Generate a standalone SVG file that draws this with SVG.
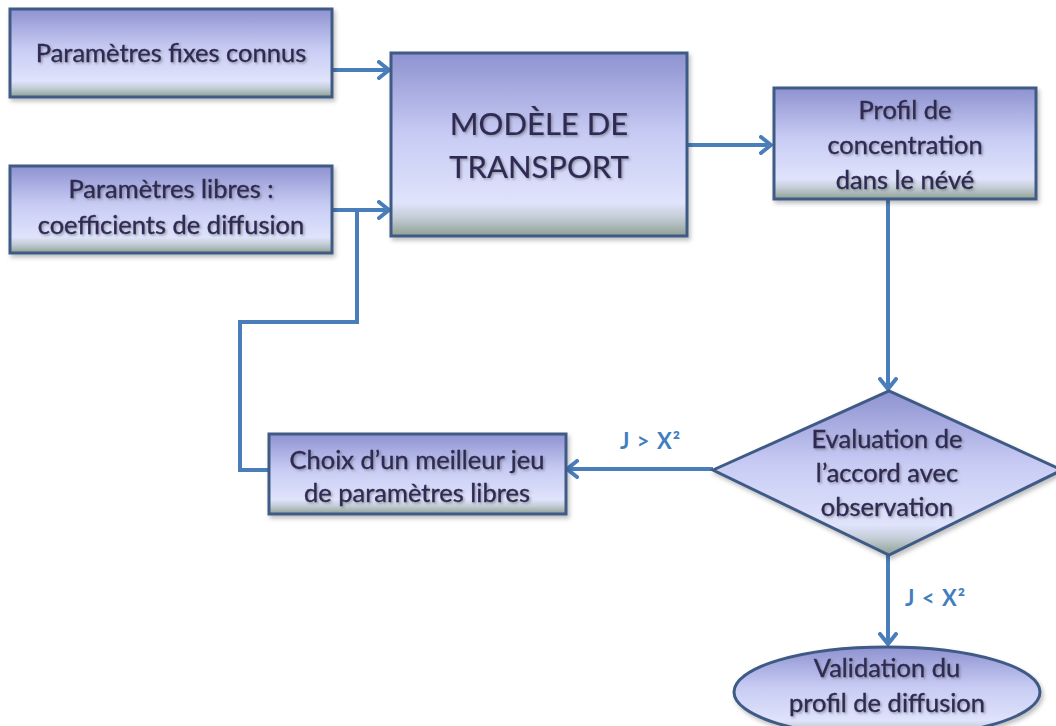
<svg xmlns="http://www.w3.org/2000/svg" width="1056" height="726" viewBox="0 0 1056 726">
<defs>
<linearGradient id="g" x1="0" y1="0" x2="0" y2="1">
<stop offset="0" stop-color="#8e92d0"/>
<stop offset="0.45" stop-color="#c8ccf4"/>
<stop offset="0.82" stop-color="#dfe3fb"/>
<stop offset="0.9" stop-color="#c3ccd6"/>
<stop offset="1" stop-color="#8ea192"/>
</linearGradient>
<filter id="sh" x="-10%" y="-20%" width="120%" height="140%">
<feDropShadow dx="1.5" dy="1.5" stdDeviation="1" flood-color="#555" flood-opacity="0.5"/>
</filter>
<filter id="bs" x="-10%" y="-10%" width="120%" height="130%">
<feDropShadow dx="2" dy="3" stdDeviation="2" flood-color="#000" flood-opacity="0.25"/>
</filter>
<marker id="ar" viewBox="0 0 14 20" refX="12" refY="10" markerWidth="14" markerHeight="20" markerUnits="userSpaceOnUse" orient="auto">
<path d="M2,2 L12,10 L2,18" fill="none" stroke="#4a7ebb" stroke-width="4" stroke-linecap="round" stroke-linejoin="round"/>
</marker>
</defs>
<style>
.n{fill:url(#g);stroke:#3f5a86;stroke-width:3;filter:url(#bs)}
.t{font-family:Lato,"Open Sans",sans-serif;font-size:25.5px;fill:#2e2a55;stroke:#2e2a55;stroke-width:0.35;text-anchor:middle;filter:url(#sh)}
.big{font-size:31px;stroke-width:0.2}
.c{fill:none;stroke:#4a7ebb;stroke-width:4}
.l{font-family:Lato,"Open Sans",sans-serif;font-size:22px;font-weight:bold;fill:#3f7fc0;letter-spacing:1px}
</style>
<rect width="1056" height="726" fill="#ffffff"/>
<g id="connectors">
<path class="c" d="M332,70 H389" marker-end="url(#ar)"/>
<path class="c" d="M332,210 H389" marker-end="url(#ar)"/>
<path class="c" d="M270,470 H240 V322 H357 V210"/>
<path class="c" d="M687,145 H771" marker-end="url(#ar)"/>
<path class="c" d="M888,199 V389" marker-end="url(#ar)"/>
<path class="c" d="M713,469 H567" marker-end="url(#ar)"/>
<path class="c" d="M888,555 V644" marker-end="url(#ar)"/>
<text class="l" x="620" y="449">J &gt; X²</text>
<text class="l" x="905" y="606">J &lt; X²</text>
</g>
<g id="fixes">
<rect class="n" x="10" y="9" width="322" height="88"/>
<text class="t" x="171" y="62">Paramètres fixes connus</text>
</g>
<g id="libres">
<rect class="n" x="10" y="166" width="322" height="87"/>
<text class="t" x="171" y="198">Paramètres libres :</text>
<text class="t" x="171" y="234">coefficients de diffusion</text>
</g>
<g id="modele">
<rect class="n" x="391" y="53" width="296" height="183"/>
<text class="t big" x="539" y="135">MODÈLE DE</text>
<text class="t big" x="539" y="178">TRANSPORT</text>
</g>
<g id="profil">
<rect class="n" x="774" y="88" width="262" height="111"/>
<text class="t" x="905" y="119">Profil de</text>
<text class="t" x="905" y="154">concentration</text>
<text class="t" x="905" y="189">dans le névé</text>
</g>
<g id="choix">
<rect class="n" x="269" y="434" width="297" height="80"/>
<text class="t" x="417" y="469">Choix d’un meilleur jeu</text>
<text class="t" x="417" y="502">de paramètres libres</text>
</g>
<g id="evaluation">
<polygon class="n" points="713,470 889,391 1062,470 889,555"/>
<text class="t" x="887" y="448">Evaluation de</text>
<text class="t" x="887" y="482">l’accord avec</text>
<text class="t" x="887" y="516">observation</text>
</g>
<g id="validation">
<ellipse class="n" cx="887" cy="692" rx="153" ry="45"/>
<text class="t" x="887" y="677">Validation du</text>
<text class="t" x="887" y="712">profil de diffusion</text>
</g>
</svg>
